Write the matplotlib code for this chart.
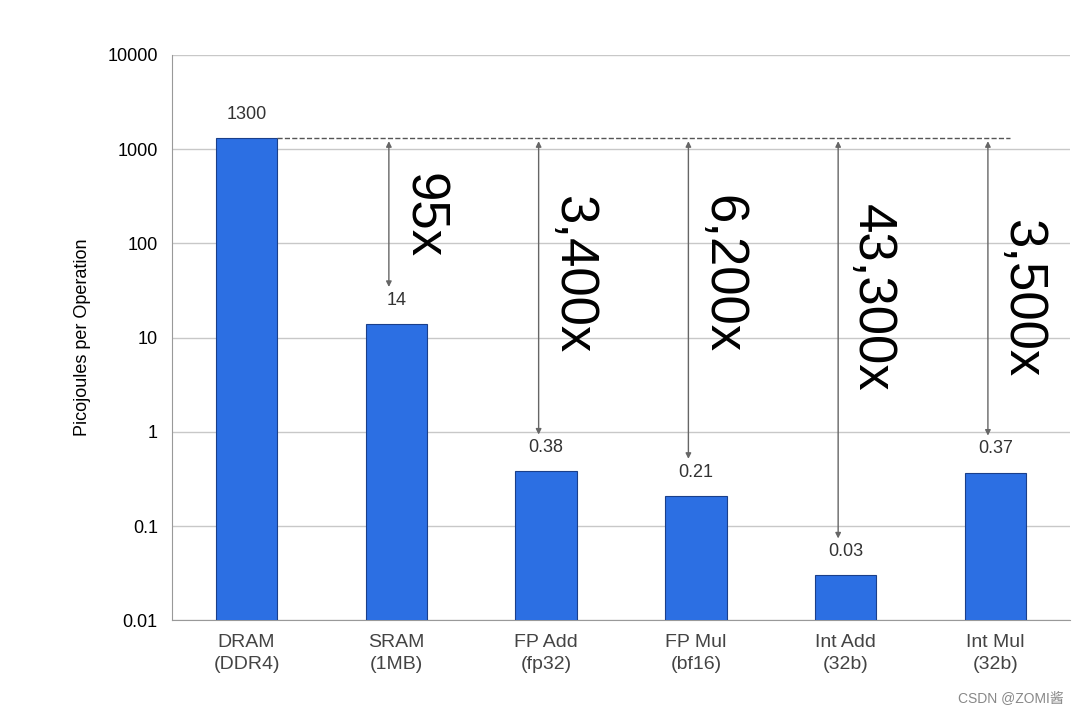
import matplotlib.pyplot as plt
import numpy as np

plt.rcParams['font.family'] = ['Liberation Sans', 'Noto Sans CJK SC', 'DejaVu Sans']

categories = ["DRAM\n(DDR4)", "SRAM\n(1MB)", "FP Add\n(fp32)", "FP Mul\n(bf16)", "Int Add\n(32b)", "Int Mul\n(32b)"]
energy = [1300, 14, 0.38, 0.21, 0.03, 0.37]
value_labels = ["1300", "14", "0.38", "0.21", "0.03", "0.37"]
ratio_labels = [None, "95x", "3,400x", "6,200x", "43,300x", "3,500x"]
ratio_text_top = [None, 560, 330, 330, 260, 180]

fig = plt.figure(figsize=(10.8, 7.13), dpi=100)
ax = fig.add_axes([0.159, 0.13, 0.832, 0.793])

x = np.arange(len(categories))
ax.bar(x, energy, width=0.41, color="#2c6fe3", edgecolor="#1a3f8a", linewidth=0.8, zorder=3)
ax.set_yscale("log")
ax.set_ylim(0.01, 10000)
ax.set_xlim(-0.5, len(categories) - 0.5)
ticks = [0.01, 0.1, 1, 10, 100, 1000, 10000]
ax.set_yticks(ticks)
ax.set_yticklabels(["0.01", "0.1", "1", "10", "100", "1000", "10000"], fontsize=13)
ax.minorticks_off()
ax.yaxis.grid(True, color="#c8c8c8", linewidth=1, zorder=0)
ax.set_xticks(x)
ax.set_xticklabels(categories, fontsize=14, color="#444444", linespacing=1.4)
ax.tick_params(length=0, pad=10)
for s in ["top", "right"]:
    ax.spines[s].set_visible(False)
ax.spines["bottom"].set_color("#999999")
ax.spines["left"].set_color("#999999")
ax.set_ylabel("Picojoules per Operation", fontsize=13, labelpad=12)

for xi, v, lab in zip(x, energy, value_labels):
    ax.text(xi, v * 1.45, lab, ha="center", va="bottom", fontsize=13, color="#333333")

ax.plot([0.2, 5.1], [energy[0], energy[0]], ls="--", color="#555555", lw=1, zorder=4)

for xi, v, lab, top in zip(x, energy, ratio_labels, ratio_text_top):
    if lab is None:
        continue
    ax_x = xi - 0.05
    ax.annotate("", xy=(ax_x, v * 2.3), xytext=(ax_x, energy[0]),
                arrowprops=dict(arrowstyle="<|-|>", color="#666666", lw=1, mutation_scale=8),
                zorder=4)
    ax.text(ax_x + 0.06, top, lab, rotation=270, ha="left", va="top", fontsize=38)

fig.text(0.985, 0.01, "CSDN @ZOMI酱", ha="right", va="bottom", fontsize=10, color="#888888")

fig.savefig("out.png", dpi=100)
